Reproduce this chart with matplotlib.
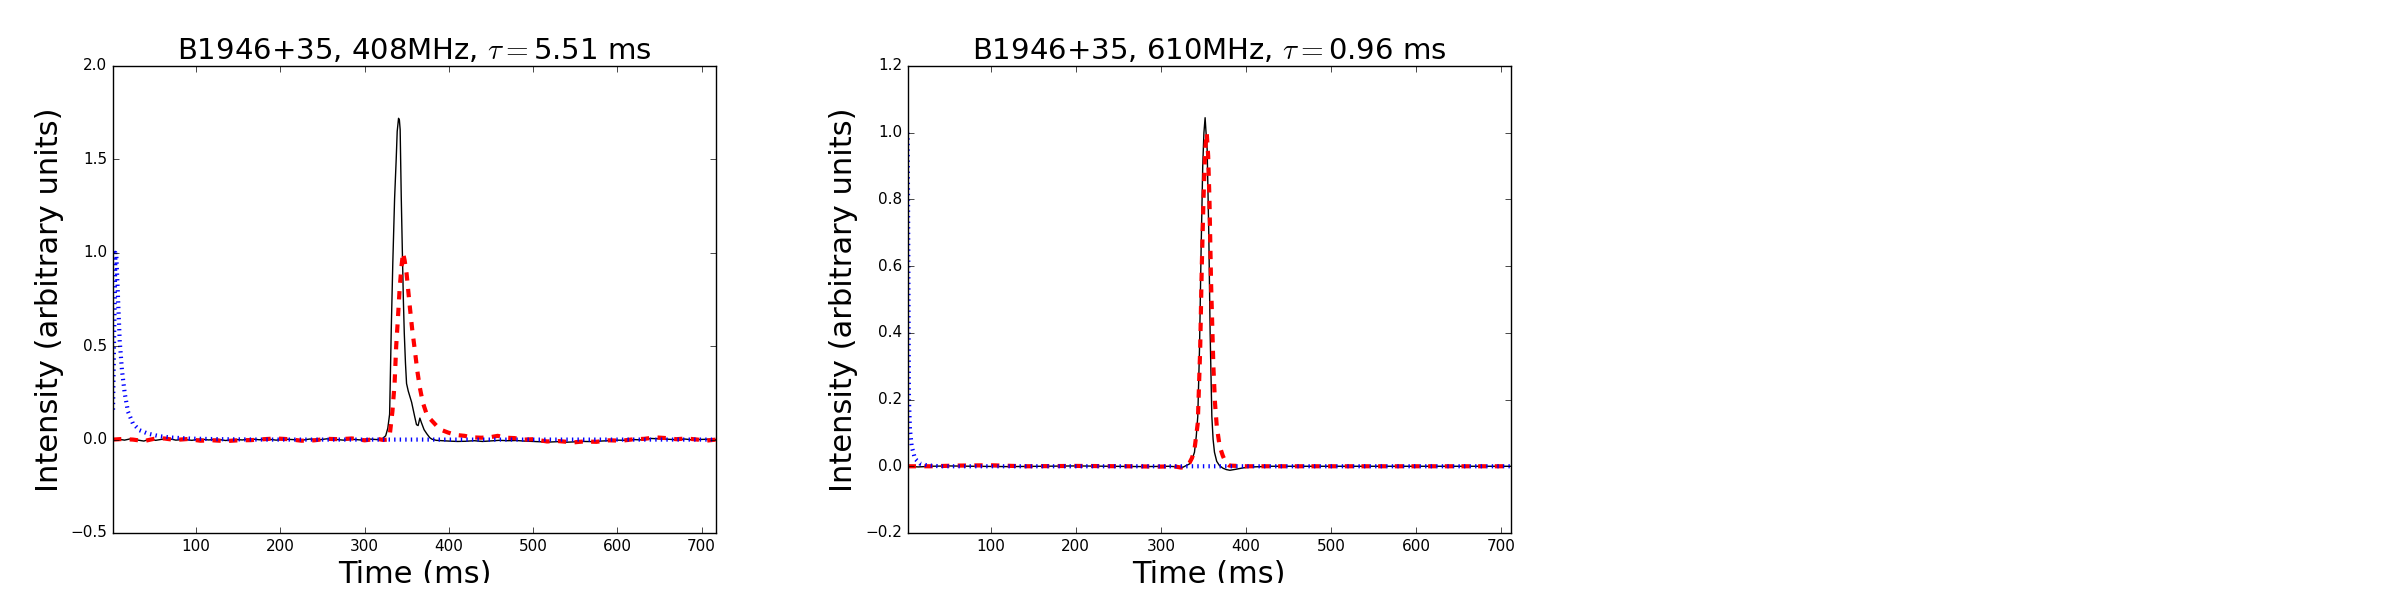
import numpy as np
import matplotlib
matplotlib.use("Agg")
import matplotlib.pyplot as plt
from matplotlib.patches import Rectangle

plt.style.use("classic")

# --- data (time in ms, intensity in arbitrary units) ---
obs_408 = [(1.4, 0.000), (8, 0.002), (15, -0.003), (22, 0.004), (30, -0.002), (38, -0.008),
           (45, 0.003), (52, -0.004), (60, 0.002), (68, 0.005), (76, -0.003), (85, 0.001),
           (95, -0.004), (105, 0.003), (115, -0.002), (125, 0.002), (135, -0.005), (145, 0.001),
           (155, -0.002), (165, 0.004), (175, -0.001), (185, 0.003), (195, -0.003), (205, 0.002),
           (215, 0.000), (225, -0.004), (235, 0.003), (245, -0.002), (255, 0.004), (265, 0.001),
           (275, -0.003), (285, 0.002), (295, -0.002), (305, 0.003), (315, 0.000), (321, 0.005),
           (325, 0.02), (327.5, 0.06), (329.7, 0.136), (331.6, 0.58), (333.5, 0.95), (335.6, 1.29),
           (337.5, 1.50), (338.7, 1.65), (340.3, 1.72), (341.3, 1.71), (342.2, 1.66), (343.5, 1.30),
           (344.8, 1.01), (346, 0.75), (347.1, 0.57), (348.5, 0.41), (349.8, 0.30), (351.8, 0.26),
           (353.8, 0.23), (355.8, 0.20), (357.7, 0.16), (359.6, 0.12), (361.6, 0.08), (363.5, 0.075),
           (365.6, 0.115), (367.5, 0.09), (370.6, 0.053), (374, 0.03), (377.4, 0.01), (380, 0.002),
           (385, -0.004), (392, -0.006), (400, -0.008), (410, -0.010), (420, -0.009), (430, -0.006),
           (440, -0.010), (450, -0.007), (460, -0.004), (470, -0.006), (480, -0.005), (490, -0.008),
           (500, -0.010), (510, -0.012), (520, -0.013), (530, -0.011), (540, -0.014), (550, -0.012),
           (560, -0.010), (570, -0.011), (580, -0.008), (590, -0.006), (600, -0.003), (610, -0.004),
           (620, 0.000), (630, -0.002), (640, 0.006), (650, 0.004), (660, 0.002), (670, -0.001),
           (680, 0.003), (690, -0.002), (700, 0.001), (710, 0.002), (717.3, 0.000)]

fit_408 = [(1.4, 0.0), (12, 0.003), (25, 0.0), (38, -0.008), (50, 0.004), (62, 0.006),
           (75, -0.002), (90, 0.003), (105, -0.006), (120, -0.004), (135, -0.008), (150, -0.004),
           (165, -0.003), (180, 0.002), (195, 0.006), (210, 0.002), (225, -0.006), (240, -0.004),
           (255, 0.004), (270, 0.002), (285, 0.006), (300, -0.004), (315, 0.004), (322, -0.002),
           (327, 0.0), (330, 0.03), (333, 0.15), (335.6, 0.30), (337.5, 0.50), (339.7, 0.66),
           (341.5, 0.80), (343.6, 0.92), (345.6, 1.0), (347.5, 0.96), (349.8, 0.89), (353.7, 0.71),
           (356.5, 0.59), (359.6, 0.48), (362.5, 0.37), (365.5, 0.28), (369, 0.20), (373.4, 0.14),
           (378, 0.11), (385.2, 0.075), (392, 0.05), (398.9, 0.038), (408, 0.025), (418.6, 0.02),
           (428, 0.012), (438.3, 0.01), (448, 0.012), (458, 0.02), (468, 0.01), (477.7, 0.008),
           (490, 0.0), (500, 0.002), (516.4, -0.01), (530, -0.008), (547.9, -0.015), (560, -0.01),
           (575, -0.012), (590, -0.004), (605, -0.006), (620, 0.002), (632, 0.004), (645, 0.012),
           (658, 0.008), (670, 0.002), (682, 0.006), (695, 0.0), (705, -0.006), (717.3, 0.0)]

kernel_408 = [(1.4, 0.16), (4.2, 1.0), (5.4, 0.98), (7.3, 0.76), (9.3, 0.53), (12.0, 0.37),
              (15.2, 0.25), (19.1, 0.15), (25, 0.086), (32.9, 0.05), (42.7, 0.032), (56.5, 0.018),
              (70.3, 0.011), (93.9, 0.005), (130, 0.002), (180, 0.0), (717.3, 0.0)]

obs_610 = [(2.5, 0.0), (15, -0.002), (30, 0.0), (50, 0.001), (80, 0.0), (120, -0.001),
           (160, 0.0), (200, 0.001), (240, 0.0), (280, -0.001), (310, 0.0), (325.7, -0.003),
           (333.5, 0.007), (336.5, 0.02), (339.4, 0.042), (341.5, 0.09), (343.3, 0.15),
           (345.3, 0.35), (347.2, 0.65), (349.1, 0.90), (350.5, 1.0), (351.9, 1.045), (353, 1.0),
           (354.3, 0.95), (356.2, 0.70), (357.8, 0.40), (359.8, 0.15), (361.3, 0.08), (362.9, 0.042),
           (365.5, 0.015), (368.8, 0.002), (373, -0.006), (377, -0.01), (381, -0.012), (388, -0.009),
           (396, -0.005), (407, -0.002), (430, 0.0), (500, 0.0), (600, 0.0), (711, 0.0)]

fit_610 = [(2.5, 0.0), (30, 0.0), (60, 0.002), (100, 0.003), (140, 0.0), (200, 0.001),
           (260, 0.0), (300, -0.001), (315, 0.0), (323.7, -0.004), (330, 0.0), (333.5, 0.01),
           (336.5, 0.025), (339.4, 0.05), (343.3, 0.13), (346.1, 0.35), (348, 0.60), (350, 0.80),
           (352, 0.95), (353.8, 1.0), (355.5, 0.93), (357, 0.80), (358.9, 0.55), (361.6, 0.30),
           (363.5, 0.19), (365.6, 0.12), (369, 0.06), (372.6, 0.032), (376, 0.012), (380.4, 0.002),
           (400, 0.0), (711, 0.0)]

kernel_610 = [(2.5, 1.0), (3.3, 0.6), (4.0, 0.2), (5.2, 0.11), (7.2, 0.06), (11, 0.023),
              (16.9, 0.008), (24.8, 0.003), (40, 0.0), (711, 0.0)]

titles = [r"B1946+35, 408MHz, $\tau=$5.51 ms", r"B1946+35, 610MHz, $\tau=$0.96 ms"]
xlims = [(1.4, 717.3), (2.5, 711)]
ylims = [(-0.5, 2.0), (-0.2, 1.2)]
yticks = [np.arange(-0.5, 2.01, 0.5), np.arange(-0.2, 1.21, 0.2)]
panels = [(obs_408, fit_408, kernel_408), (obs_610, fit_610, kernel_610)]

fig = plt.figure(figsize=(24, 6), dpi=100)
fig.patch.set_facecolor("white")
lefts = [0.0471, 0.3782]

for i, (obs, fit, ker) in enumerate(panels):
    ax = fig.add_axes([lefts[i], 0.1117, 0.2513, 0.7783])
    t, v = np.array(obs).T
    ax.plot(t, v, "k-", lw=1)
    t, v = np.array(fit).T
    ax.plot(t, v, "r--", lw=3)
    t, v = np.array(ker).T
    ax.plot(t, v, "b:", lw=3)
    ax.set_xlim(*xlims[i])
    ax.set_ylim(*ylims[i])
    ax.set_xticks([100, 200, 300, 400, 500, 600, 700])
    ax.set_yticks(yticks[i])
    ax.tick_params(labelsize=11)
    ax.set_title(titles[i], fontsize=21)
    ax.set_xlabel("Time (ms)", fontsize=22)
    ax.set_ylabel("Intensity (arbitrary units)", fontsize=22)

# the reference image is cut off just below the x-axis labels
fig.add_artist(Rectangle((0, 0), 1, 0.028, transform=fig.transFigure,
                         facecolor="white", edgecolor="none", zorder=10))

fig.savefig("out.png", dpi=100, facecolor="white")
